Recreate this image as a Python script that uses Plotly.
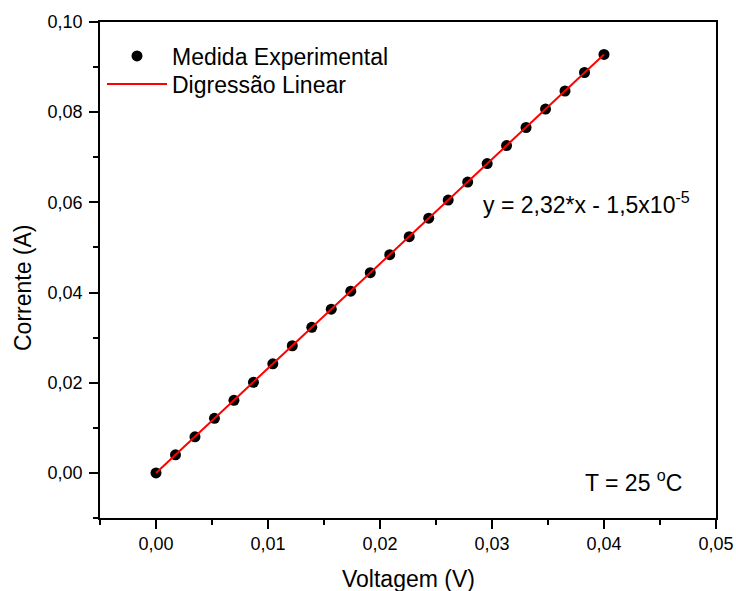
import plotly.graph_objects as go

# Measured data (Voltage in V, Current in A)
voltagem = [0.0, 0.00174, 0.00348, 0.00522, 0.00696, 0.0087, 0.01043, 0.01217,
            0.01391, 0.01565, 0.01739, 0.01913, 0.02087, 0.02261, 0.02435, 0.02609,
            0.02783, 0.02957, 0.0313, 0.03304, 0.03478, 0.03652, 0.03826, 0.04]
corrente = [0.0, 0.0040, 0.0080, 0.0121, 0.0161, 0.0201, 0.0242, 0.0282,
            0.0323, 0.0363, 0.0403, 0.0444, 0.0484, 0.0524, 0.0565, 0.0605,
            0.0645, 0.0686, 0.0726, 0.0766, 0.0807, 0.0847, 0.0888, 0.0928]

# Linear fit line endpoints
fit_x = [0.0, 0.04]
fit_y = [-0.000015, 0.092785]

x_ticks = [0.0, 0.01, 0.02, 0.03, 0.04, 0.05]
x_labels = ["0,00", "0,01", "0,02", "0,03", "0,04", "0,05"]
y_ticks = [0.0, 0.02, 0.04, 0.06, 0.08, 0.10]
y_labels = ["0,00", "0,02", "0,04", "0,06", "0,08", "0,10"]

FONT = "Liberation Sans, Arial, sans-serif"
L, R, T, B = 100, 716, 22, 518
PW, PH = R - L, B - T


def px(xp):
    return (xp - L) / PW


def py(yp):
    return 1 - (yp - T) / PH


fig = go.Figure()
fig.add_trace(go.Scatter(
    x=voltagem, y=corrente, mode="markers", name="Medida Experimental",
    marker=dict(color="black", size=11, symbol="circle"), legend="legend",
))
fig.add_trace(go.Scatter(
    x=fit_x, y=fit_y, mode="lines", name="Digressão Linear",
    line=dict(color="red", width=2), legend="legend2",
))

axis_common = dict(
    showline=True, linecolor="black", linewidth=1.5, mirror=True,
    ticks="outside", ticklen=9, tickwidth=1.5, tickcolor="black",
    showgrid=False, zeroline=False, automargin=False,
    tickfont=dict(family=FONT, size=18, color="black"),
)

leg_common = dict(
    xanchor="left", yanchor="middle", bgcolor="rgba(0,0,0,0)",
    font=dict(family=FONT, size=23, color="black"), itemwidth=60,
)

fig.update_layout(
    width=736, height=591,
    margin=dict(l=L, r=736 - R, t=T, b=591 - B),
    paper_bgcolor="white", plot_bgcolor="white",
    font=dict(family=FONT, color="black"),
    showlegend=True,
    legend=dict(x=px(102), y=py(56), **leg_common),
    legend2=dict(x=px(102), y=py(84), **leg_common),
    xaxis=dict(
        range=[-0.005, 0.05], tickvals=x_ticks, ticktext=x_labels,
        minor=dict(ticks="outside", dtick=0.005, tick0=0, ticklen=5, tickwidth=1.5, tickcolor="black"),
        **axis_common,
    ),
    yaxis=dict(
        range=[-0.01, 0.10], tickvals=y_ticks, ticktext=y_labels,
        ticklabelstandoff=3,
        minor=dict(ticks="outside", dtick=0.01, tick0=0, ticklen=5, tickwidth=1.5, tickcolor="black"),
        **axis_common,
    ),
    annotations=[
        dict(text="Voltagem (V)", xref="paper", yref="paper", x=0.5, y=0,
             yshift=-61, xanchor="center", yanchor="middle", showarrow=False,
             font=dict(family=FONT, size=23, color="black")),
        dict(text="Corrente (A)", xref="paper", yref="paper", x=0, y=0.5,
             xshift=-77, yshift=-18, textangle=-90, xanchor="center", yanchor="middle",
             showarrow=False, font=dict(family=FONT, size=23, color="black")),
        dict(text="y = 2,32*x - 1,5x10<sup>-5</sup>", xref="paper", yref="paper",
             x=px(481), y=py(203), xanchor="left", yanchor="middle",
             showarrow=False, font=dict(family=FONT, size=23, color="black")),
        dict(text="T = 25 <sup>o</sup>C", xref="paper", yref="paper",
             x=px(583), y=py(481), xanchor="left", yanchor="middle",
             showarrow=False, font=dict(family=FONT, size=23, color="black")),
    ],
)

fig.write_html("out.html", config={"displayModeBar": False},
               post_script="document.body.style.margin='0';")
